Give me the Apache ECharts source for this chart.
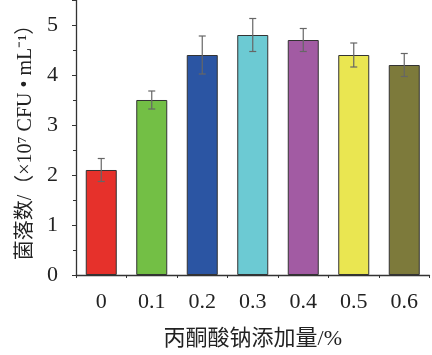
<!DOCTYPE html>
<html><head><meta charset="utf-8">
<script src="https://cdn.jsdelivr.net/npm/echarts@6/dist/echarts.min.js"></script>
<style>html,body{margin:0;padding:0;background:#fff}#c{width:432px;height:355px}</style>
</head><body><div id="c"></div>
<script>
var categories = ['0', '0.1', '0.2', '0.3', '0.4', '0.5', '0.6'];
var values = [2.1, 3.5, 4.4, 4.8, 4.7, 4.4, 4.2];
var errors = [0.23, 0.18, 0.38, 0.33, 0.23, 0.24, 0.23];
var colors = ['#e6312b', '#73bf45', '#2b55a3', '#6ccad3', '#a25ba3', '#eae651', '#7d7a3b'];
var yTicks = [0, 1, 2, 3, 4, 5];

var font = '"Liberation Serif", "Times New Roman", "Noto Sans CJK SC", serif';
var chart = echarts.init(document.getElementById('c'));
chart.setOption({
  animation: false,
  grid: { left: 76, width: 353.5, top: 0, height: 275.7, containLabel: false },
  xAxis: [{
    type: 'category', data: categories,
    axisLine: { lineStyle: { color: '#333', width: 1.3 } },
    axisTick: { alignWithLabel: true, length: 5, lineStyle: { color: '#333' } },
    axisLabel: { color: '#222', fontSize: 22, fontFamily: font, margin: 16 },
    name: '丙酮酸钠添加量/%', nameLocation: 'middle', nameGap: 53,
    nameTextStyle: { color: '#222', fontSize: 22, fontFamily: font }
  }, {
    type: 'category', data: categories, position: 'bottom',
    axisLine: { show: false },
    axisTick: { show: true, length: 3, lineStyle: { color: '#333' } },
    axisLabel: { show: false }
  }],
  yAxis: {
    type: 'value', min: 0, max: 5.5, interval: 1,
    axisLine: { show: true, lineStyle: { color: '#333', width: 1.3 } },
    axisTick: { show: true, length: 4, lineStyle: { color: '#333' } },
    minorTick: { show: true, splitNumber: 2, length: 3, lineStyle: { color: '#333' } },
    splitLine: { show: false },
    axisLabel: {
      color: '#222', fontSize: 22, fontFamily: font, margin: 18,
      formatter: function (v) { return yTicks.indexOf(v) >= 0 ? String(v) : ''; }
    },
    name: '菌落数/（×10⁷ CFU • mL⁻¹）', nameLocation: 'middle', nameGap: 35,
    nameTextStyle: { color: '#222', fontSize: 20, fontFamily: font }
  },
  series: [{
    type: 'bar', barWidth: 31,
    data: values.map(function (v, i) {
      return { value: v, itemStyle: { color: colors[i], borderColor: '#333', borderWidth: 1 } };
    })
  }, {
    type: 'custom',
    data: values.map(function (v, i) { return [i, v - errors[i], v + errors[i]]; }),
    renderItem: function (params, api) {
      var lo = api.coord([api.value(0), api.value(1)]);
      var hi = api.coord([api.value(0), api.value(2)]);
      var cw = 3.5;
      var st = { stroke: '#666', lineWidth: 1.2 };
      return { type: 'group', children: [
        { type: 'line', shape: { x1: hi[0], y1: hi[1], x2: lo[0], y2: lo[1] }, style: st },
        { type: 'line', shape: { x1: hi[0] - cw, y1: hi[1], x2: hi[0] + cw, y2: hi[1] }, style: st },
        { type: 'line', shape: { x1: lo[0] - cw, y1: lo[1], x2: lo[0] + cw, y2: lo[1] }, style: st }
      ]};
    },
    z: 10
  }]
});
</script></body></html>
